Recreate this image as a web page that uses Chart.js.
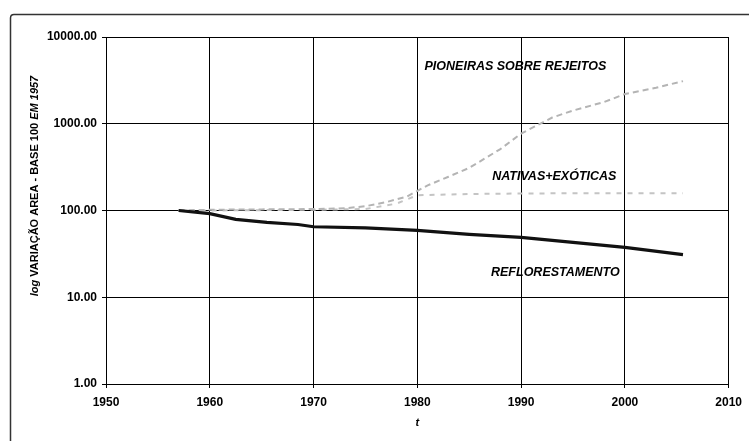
<!DOCTYPE html>
<html>
<head>
<meta charset="utf-8">
<script src="https://cdn.jsdelivr.net/npm/chart.js@4/dist/chart.umd.min.js"></script>
<style>
  html, body { margin: 0; padding: 0; background: #fff; }
  #wrap { width: 749px; height: 441px; position: relative; }
</style>
</head>
<body>
<div id="wrap"><canvas id="c" width="749" height="441"></canvas></div>
<script>
// Axis ticks
const yearTicks = [1950, 1960, 1970, 1980, 1990, 2000, 2010];
const valueTicks = [1, 10, 100, 1000, 10000];

// Pioneiras sobre rejeitos (index, base 100 in 1957)
const pioneirasYears  = [1957, 1960, 1965, 1970, 1973, 1975, 1977, 1979, 1981, 1983, 1985, 1988, 1990, 1993, 1995, 1998, 2000, 2003, 2005.6];
const pioneirasValues = [100, 102, 103, 104, 106, 112, 125, 145, 195, 245, 310, 510, 770, 1180, 1420, 1780, 2200, 2600, 3100];

// Nativas + exóticas
const nativasYears  = [1957, 1960, 1965, 1970, 1975, 1978, 1980, 1985, 1990, 1995, 2000, 2005.6];
const nativasValues = [100, 100, 101, 102, 104, 120, 150, 155, 157, 158, 158, 158];

// Reflorestamento
const reflorYears  = [1957, 1960, 1962.5, 1965.5, 1968.5, 1970, 1975, 1980, 1985, 1990, 1995, 2000, 2005.6];
const reflorValues = [100, 92, 79, 73, 69, 65, 63, 59, 53, 49, 43, 37.5, 31];

// Series labels written inside the plot
const seriesLabels = ['PIONEIRAS SOBRE REJEITOS', 'NATIVAS+EXÓTICAS', 'REFLORESTAMENTO'];
const labelAnchors = [
  { x: 1989.45, y: 4520 },
  { x: 1993.2,  y: 246 },
  { x: 1993.3,  y: 19.4 }
];

const FONT = '"Liberation Sans", Arial, sans-serif';

function points(xs, ys) {
  return xs.map((x, i) => ({ x: x, y: ys[i] }));
}

const decorations = {
  id: 'decorations',
  beforeDraw(chart) {
    const ctx = chart.ctx;
    ctx.save();
    ctx.fillStyle = '#fff';
    ctx.fillRect(0, 0, chart.width, chart.height);
    // outer frame (top and left edges)
    ctx.strokeStyle = '#333';
    ctx.lineWidth = 1.5;
    ctx.beginPath();
    ctx.moveTo(10.5, chart.height);
    ctx.lineTo(10.5, 18);
    ctx.quadraticCurveTo(10.5, 14.5, 14, 14.5);
    ctx.lineTo(chart.width, 14.5);
    ctx.stroke();
    ctx.restore();
  },
  afterDraw(chart) {
    const ctx = chart.ctx;
    const xs = chart.scales.x, ys = chart.scales.y;
    ctx.save();
    ctx.fillStyle = '#000';
    ctx.textBaseline = 'middle';

    // series labels
    ctx.font = 'italic bold 12.5px ' + FONT;
    ctx.textAlign = 'center';
    seriesLabels.forEach((t, i) => {
      ctx.fillText(t, xs.getPixelForValue(labelAnchors[i].x), ys.getPixelForValue(labelAnchors[i].y));
    });

    // x axis title
    ctx.font = 'italic bold 11px ' + FONT;
    ctx.fillText('t', (chart.chartArea.left + chart.chartArea.right) / 2, 423);

    // y axis title, mixed styles
    const parts = [
      ['log ', 'italic bold 11px ' + FONT],
      ['VARIAÇÃO AREA - BASE 100 ', 'bold 11px ' + FONT],
      ['EM 1957', 'italic bold 11px ' + FONT]
    ];
    let total = 0;
    parts.forEach(p => { ctx.font = p[1]; total += ctx.measureText(p[0]).width; });
    ctx.translate(35, 186);
    ctx.rotate(-Math.PI / 2);
    ctx.textAlign = 'left';
    let pos = -total / 2;
    parts.forEach(p => {
      ctx.font = p[1];
      ctx.fillText(p[0], pos, 0);
      pos += ctx.measureText(p[0]).width;
    });
    ctx.restore();
  }
};

new Chart(document.getElementById('c'), {
  type: 'line',
  data: {
    datasets: [
      {
        label: seriesLabels[2],
        data: points(reflorYears, reflorValues),
        borderColor: '#111',
        borderWidth: 3.2,
        pointRadius: 0,
        tension: 0,
        order: 0
      },
      {
        label: seriesLabels[0],
        data: points(pioneirasYears, pioneirasValues),
        borderColor: '#b4b4b4',
        borderWidth: 2,
        borderDash: [6, 4],
        pointRadius: 0,
        tension: 0,
        order: 1
      },
      {
        label: seriesLabels[1],
        data: points(nativasYears, nativasValues),
        borderColor: '#c4c4c4',
        borderWidth: 2,
        borderDash: [5, 6],
        pointRadius: 0,
        tension: 0,
        order: 2
      }
    ]
  },
  options: {
    responsive: false,
    animation: false,
    devicePixelRatio: 1,
    layout: { padding: { top: 37, right: 17, left: 0, bottom: 0 } },
    plugins: {
      legend: { display: false },
      tooltip: { enabled: false },
      title: { display: false }
    },
    scales: {
      x: {
        type: 'linear',
        min: 1950,
        max: 2010,
        afterBuildTicks(scale) { scale.ticks = yearTicks.map(v => ({ value: v })); },
        afterFit(scale) { scale.height = 57; },
        ticks: {
          color: '#000',
          font: { family: FONT, size: 12, weight: 'bold' },
          padding: 7,
          maxRotation: 0,
          callback: v => String(v)
        },
        grid: { color: '#000', lineWidth: 1, tickLength: 4 },
        border: { color: '#000', width: 1 }
      },
      y: {
        type: 'logarithmic',
        min: 1,
        max: 10000,
        afterBuildTicks(scale) { scale.ticks = valueTicks.map(v => ({ value: v })); },
        afterFit(scale) { scale.width = 106; },
        ticks: {
          color: '#000',
          font: { family: FONT, size: 12, weight: 'bold' },
          padding: 5,
          callback: v => Number(v).toFixed(2)
        },
        grid: { color: '#000', lineWidth: 1, tickLength: 4 },
        border: { color: '#000', width: 1 }
      }
    }
  },
  plugins: [decorations]
});
</script>
</body>
</html>
